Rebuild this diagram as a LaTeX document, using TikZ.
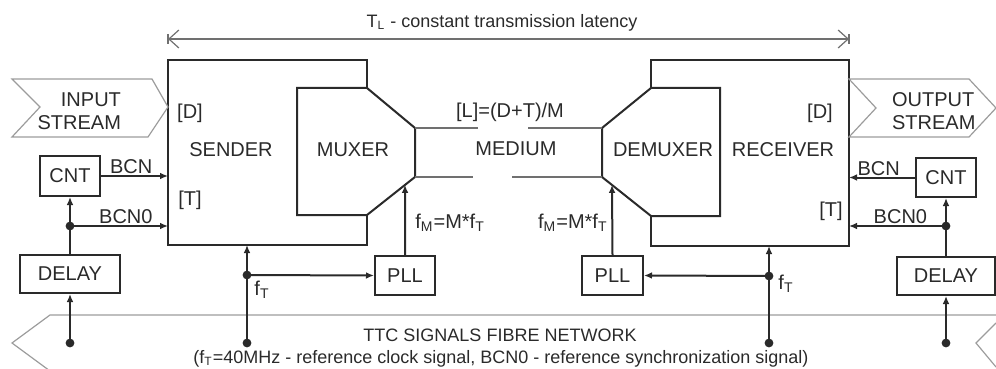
\documentclass[tikz,border=0pt]{standalone}
\usepackage{fontspec}
\setmainfont{Liberation Sans}
\usetikzlibrary{arrows.meta,positioning,calc}
\definecolor{ink}{HTML}{2A2A2A}
\definecolor{shade}{HTML}{9C9C9C}
\definecolor{wire}{HTML}{707070}

\begin{document}
\begin{tikzpicture}[x=0.5pt,y=-0.5pt,font=\fontsize{10}{11.5}\selectfont,text=ink,
   blk/.style={draw=ink,line width=1pt},
   unit/.style={draw=ink,line width=1pt,inner sep=0pt,minimum height=19.5pt},
   sig/.style={draw=ink,line width=1pt,-{Latex[length=4pt,width=3.4pt]}},
   lead/.style={draw=ink,line width=1pt},
   dot/.style={circle,fill=ink,inner sep=0pt,minimum size=4.4pt},
   flow/.style={draw=shade,line width=0.6pt},
   dim/.style={draw=wire,line width=0.6pt},
   small/.style={font=\fontsize{9}{11}\selectfont}]
  \useasboundingbox (0,0) rectangle (996,369);

  % latency span
  \coordinate (dimL) at (168,39);
  \coordinate (dimR) at (849,39);
  \draw[dim,{Straight Barb[length=5pt,width=9pt]}-{Straight Barb[length=5pt,width=9pt]}] (dimL) -- (dimR);
  \draw[dim] ($(dimL)+(0,-5)$) -- ($(dimL)+(0,5)$);
  \draw[dim] ($(dimR)+(0,-5)$) -- ($(dimR)+(0,5)$);
  \node[small] (lat) at (502,23) {T\textsubscript{L} - constant transmission latency};

  % sender + muxer
  \draw[blk] (367,88) -- (367,60) -- (168,60) -- (168,245) -- (367,245) -- (367,215);
  \draw[blk] (297,88) -- (367,88) -- (415,128) coordinate (mxA)
     -- (415,177) coordinate (mxB) -- (367,215) coordinate (mxC) -- (297,215) -- cycle;
  % receiver + demuxer
  \draw[blk] (651,88) -- (651,60) -- (849,60) -- (849,246) -- (651,246) -- (651,216);
  \draw[blk] (720,88) -- (651,88) -- (602,128) coordinate (dmA)
     -- (602,177) coordinate (dmB) -- (651,216) coordinate (dmC) -- (720,216) -- cycle;

  % medium
  \draw[dim] (mxA) -- (478,128) (528,128) -- (dmA);
  \draw[dim] (mxB) -- (473,177) (512,177) -- (dmB);

  \node (snd) at (231,150) {SENDER};
  \node (mux) at (353,150) {MUXER};
  \node (med) at (516,149) {MEDIUM};
  \node (lat2) at (510,112) {[L]=(D+T)/M};
  \node (dmx) at (663,150) {DEMUXER};
  \node (rcv) at (783,150) {RECEIVER};
  \node (sD) at (190,113) {[D]};
  \node (sT) at (190,200) {[T]};
  \node (rD) at (820,113) {[D]};
  \node (rT) at (831,211) {[T]};

  % streams
  \draw[flow] (12,79) -- (152,79) -- (168,107) -- (148,137) -- (12,137) -- (40,107) -- cycle;
  \node[anchor=east,align=right] (instr) at (128,111) {INPUT\\STREAM};
  \draw[flow] (849,79) -- (969,79) -- (996,108) -- (969,137) -- (849,137) -- (876,108) -- cycle;
  \node[anchor=west,align=left] (outstr) at (885,111) {OUTPUT\\STREAM};

  % fibre network
  \draw[flow] (996,315) -- (50,315) -- (12,343) -- (50,371);
  \draw[flow] (996,323) -- (976,343) -- (996,367);
  \node[small] (ttc) at (500,335) {TTC SIGNALS FIBRE NETWORK};
  \node[small] (ttcnote) at (501,359) {(f\textsubscript{T}=40MHz - reference clock signal, BCN0 - reference synchronization signal)};

  % sender side
  \node[unit,minimum width=30pt,minimum height=20pt] (cntL) at (70,176) {CNT};
  \node[unit,minimum width=50pt,minimum height=19pt] (dlyL) at (70,274) {DELAY};
  \node[unit,minimum width=30pt] (pllL) at (405,275.5) {PLL};
  \node[dot] (jL) at (70,226) {};
  \node[dot] (fL) at (70,343) {};
  \node[dot] (jS) at (247,275) {};
  \node[dot] (fS) at (247,343) {};
  \coordinate (sBCN) at (168,176);
  \coordinate (sBCN0) at (168,226);
  \coordinate (sBot) at (247,245);
  \coordinate (mxIn) at ($(mxB)!{10/48}!(mxC)$);

  \draw[sig] (cntL.east) -- (sBCN) node[pos=0.45,above,inner sep=0.5pt] {BCN};
  \draw[sig] (jL.center) -- (sBCN0) node[pos=0.57,above,inner sep=0.5pt] {BCN0};
  \draw[sig] (jL.center) -- (cntL.south);
  \draw[lead] (dlyL.north) -- (jL.center);
  \draw[sig] (fL.center) -- (dlyL.south);
  \draw[sig] (fS.center) -- (sBot);
  \draw[sig] (jS.center) -- (pllL.west);
  \draw[sig] (pllL.north) -- (mxIn);
  \node (fTL) at (262,290) {f\textsubscript{T}};
  \node[anchor=west,inner sep=1pt] (fML) at (413,223) {f\textsubscript{M}=M*f\textsubscript{T}};

  % receiver side
  \node[unit,minimum width=30pt] (cntR) at (946,177.5) {CNT};
  \node[unit,minimum width=49pt,minimum height=19pt] (dlyR) at (946,276) {DELAY};
  \node[unit,minimum width=30.5pt] (pllR) at (612.5,275.5) {PLL};
  \node[dot] (jR) at (946,226) {};
  \node[dot] (fR) at (946,343) {};
  \node[dot] (jRx) at (769,276) {};
  \node[dot] (fRx) at (769,343) {};
  \coordinate (rBCN) at (849,177.5);
  \coordinate (rBCN0) at (849,226);
  \coordinate (rBot) at (769,246);
  \coordinate (dmIn) at ($(dmB)!{10/49}!(dmC)$);

  \draw[sig] (cntR.west) -- (rBCN) node[pos=0.55,above,inner sep=0.5pt] {BCN};
  \draw[sig] (jR.center) -- (rBCN0) node[pos=0.47,above,inner sep=0.5pt] {BCN0};
  \draw[sig] (jR.center) -- (cntR.south);
  \draw[lead] (dlyR.north) -- (jR.center);
  \draw[sig] (fR.center) -- (dlyR.south);
  \draw[sig] (fRx.center) -- (rBot);
  \draw[sig] (jRx.center) -- (pllR.east);
  \draw[sig] (pllR.north) -- (dmIn);
  \node (fTR) at (786,284) {f\textsubscript{T}};
  \node[anchor=east,inner sep=1pt] (fMR) at (610,223) {f\textsubscript{M}=M*f\textsubscript{T}};
\end{tikzpicture}
\end{document}
